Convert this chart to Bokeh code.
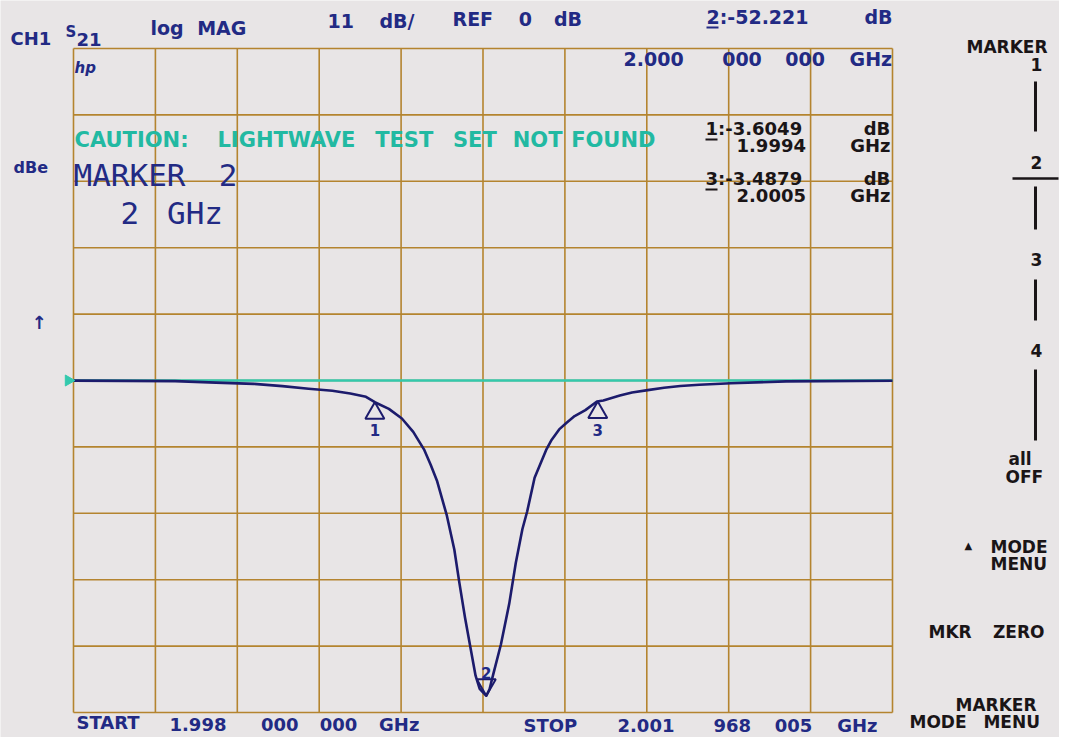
import numpy as np
from bokeh.plotting import figure
from bokeh.models import Range1d
from bokeh.core.properties import value
from bokeh.embed import file_html
from bokeh.resources import INLINE

freq_start_ghz = 1.998
freq_stop_ghz = 2.001968005
n_div = 10
ref_db = 0.0
scale_db_per_div = 11.0

trace_freq_ghz = [
    1.998000, 1.998492, 1.998690, 1.998873, 1.999012, 1.999139, 1.999254, 1.999341,
    1.999417, 1.999460, 1.999528, 1.999591, 1.999646, 1.999698, 1.999730, 1.999762,
    1.999809, 1.999845, 1.999869, 1.999897, 1.999924, 1.999948, 1.999968, 2.000000,
    2.000016, 2.000032, 2.000071, 2.000111, 2.000143, 2.000175, 2.000198, 2.000234,
    2.000290, 2.000317, 2.000353, 2.000389, 2.000428, 2.000480, 2.000536, 2.000567,
    2.000647, 2.000706, 2.000782, 2.000861, 2.000940, 2.001032, 2.001186, 2.001452,
    2.001968005,
]
trace_db = [
    -0.02, -0.10, -0.35, -0.56, -0.93, -1.36, -1.70, -2.15,
    -2.70, -3.60, -4.7, -6.3, -8.5, -11.4, -13.9, -16.7,
    -22.4, -28.0, -33.4, -39.3, -44.4, -48.9, -51.1, -52.22,
    -51.1, -48.9, -43.7, -37.0, -30.2, -24.6, -21.7, -16.1,
    -11.5, -9.8, -8.1, -7.0, -5.9, -4.9, -3.49, -3.3,
    -2.5, -2.0, -1.6, -1.2, -0.9, -0.7, -0.45, -0.15,
    -0.05,
]
memory_freq_ghz = [1.998, 2.001968005]
memory_db = [0.0, 0.0]

marker_ids = ["1", "2", "3"]
marker_freq_ghz = [1.99946, 2.00000, 2.00054]
marker_db = [-3.6049, -52.221, -3.4879]
active_marker = 1

# ---------------- layout (pixels of the picture) ----------------
W, H = 1059, 737
GL, GR, GT, GB = 73, 892, 48, 712   # graticule box

span = freq_stop_ghz - freq_start_ghz
ghz_per_px = span / (GR - GL)
db_top = ref_db + scale_db_per_div * n_div / 2
db_bot = ref_db - scale_db_per_div * n_div / 2
db_per_px = (db_top - db_bot) / (GB - GT)

x_range = Range1d(freq_start_ghz - GL * ghz_per_px, freq_stop_ghz + (W - GR) * ghz_per_px)
y_range = Range1d(db_bot - (H - GB) * db_per_px, db_top + GT * db_per_px)

BG = "#e8e5e6"
GRID = "#b4842f"
BLUE = "#222a84"
BLACK = "#1a1517"
TEAL = "#22b9a2"
TRACE = "#1c1b6c"
MEM = "#33c9ad"

p = figure(width=W, height=H, x_range=x_range, y_range=y_range,
           toolbar_location=None, output_backend="svg", min_border=0,
           x_axis_location=None, y_axis_location=None, title=None,
           background_fill_color=BG, border_fill_color=BG, outline_line_color=None)
p.grid.visible = False
p.extra_x_ranges = {"px": Range1d(0, W)}
p.extra_y_ranges = {"py": Range1d(H, 0)}

# ---------------- graticule ----------------
div_freqs = np.linspace(freq_start_ghz, freq_stop_ghz, n_div + 1)
div_dbs = ref_db + scale_db_per_div * np.arange(-n_div // 2, n_div // 2 + 1)
p.segment(x0=div_freqs, y0=db_bot, x1=div_freqs, y1=db_top, line_color=GRID, line_width=1.6)
p.segment(x0=freq_start_ghz, y0=div_dbs, x1=freq_stop_ghz, y1=div_dbs, line_color=GRID, line_width=1.6)

# ---------------- traces ----------------
p.line(memory_freq_ghz, memory_db, line_color=MEM, line_width=2.6)
p.line(trace_freq_ghz, trace_db, line_color=TRACE, line_width=2.6, line_join="round")

# reference-position pointer at left edge
p.scatter(x=[freq_start_ghz - 5 * ghz_per_px], y=[ref_db], marker="triangle", size=11,
          angle=-np.pi / 2, fill_color=MEM, line_color=MEM)

# ---------------- markers ----------------
tri_size = 19
apex = tri_size / np.sqrt(3) * db_per_px
for i, (mid, f, d) in enumerate(zip(marker_ids, marker_freq_ghz, marker_db)):
    if i == active_marker:
        p.scatter(x=[f], y=[d + apex], marker="inverted_triangle", size=tri_size,
                  fill_color=None, line_color=TRACE, line_width=2)
        p.text(x=[f], y=[d], text=[mid], text_align="center", text_baseline="bottom",
               y_offset=-17, text_font=value("DejaVu Sans"), text_font_style="bold",
               text_font_size="15px", text_color=BLUE)
    else:
        p.scatter(x=[f], y=[d - apex], marker="triangle", size=tri_size,
                  fill_color=None, line_color=TRACE, line_width=2)
        p.text(x=[f], y=[d], text=[mid], text_align="center", text_baseline="top",
               y_offset=22, text_font=value("DejaVu Sans"), text_font_style="bold",
               text_font_size="15px", text_color=BLUE)


# ---------------- screen annotations ----------------
def put(s, x0, y, cell, size, color, font="DejaVu Sans", style="bold"):
    words, i = [], 0
    for w in s.split(" "):
        if w:
            words.append((w, x0 + i * cell, x0 + (i + len(w)) * cell))
        i += len(w) + 1
    n = len(words)
    for k, (w, xl, xr) in enumerate(words):
        if k == 0:
            x, al = xl, "left"
        elif k == n - 1:
            x, al = xr, "right"
        else:
            x, al = (xl + xr) / 2, "center"
        p.text(x=[x], y=[y], text=[w], x_range_name="px", y_range_name="py",
               text_align=al, text_baseline="middle", text_font=value(font),
               text_font_style=style, text_font_size=f"{size}px", text_color=color)


def underline(x0, y, color, w=12):
    p.segment(x0=[x0], y0=[y], x1=[x0 + w], y1=[y], x_range_name="px", y_range_name="py",
              line_color=color, line_width=2)


# header
put("CH1", 10, 38, 14, 18, BLUE)
put("S", 65, 31, 12, 15, BLUE)
put("21", 76, 39, 12, 18, BLUE)
put("log MAG", 150, 27, 13.7, 19, BLUE)
put("11 dB/", 327, 20, 14.5, 19, BLUE)
put("REF 0 dB", 452, 18, 16.2, 19, BLUE)
put("2:-52.221 dB", 706, 16, 15.5, 19, BLUE)
underline(706, 27, BLUE)

# inside graticule
put("hp", 74, 67, 9, 15, BLUE, style="bold italic")
put("2.000 000 000 GHz", 623, 58, 15.8, 19, BLUE)
put("CAUTION: LIGHTWAVE TEST SET NOT FOUND", 74, 139, 15.7, 21, TEAL)
put("MARKER 2", 73, 174, 20.5, 31, BLUE, font="DejaVu Sans Mono", style="normal")
put("2 GHz", 120, 212, 20.5, 31, BLUE, font="DejaVu Sans Mono", style="normal")
put("1:-3.6049 dB", 705, 128, 15.4, 18, BLACK)
underline(705, 139, BLACK)
put("1.9994 GHz", 736, 145, 15.4, 18, BLACK)
put("3:-3.4879 dB", 705, 178, 15.4, 18, BLACK)
underline(705, 189, BLACK)
put("2.0005 GHz", 736, 195, 15.4, 18, BLACK)

# left side
put("dBe", 13, 167, 13, 16, BLUE)
put("\u2191", 31, 322, 10, 18, BLUE)

# bottom
put("START", 76, 722, 12, 18, BLUE)
put("1.998 000 000 GHz", 169, 724, 14.7, 18, BLUE)
put("STOP", 523, 725, 14.5, 18, BLUE)
put("2.001 968 005 GHz", 617, 725, 15.3, 18, BLUE)

# softkey column
put("MARKER", 966, 46, 15, 17, BLACK)
for lab, yy in [("1", 64), ("2", 162), ("3", 259), ("4", 350)]:
    put(lab, 1030, yy, 12, 17, BLACK)
p.segment(x0=[1035] * 4, y0=[81, 186, 279, 369], x1=[1035] * 4, y1=[131, 229, 320, 440],
          x_range_name="px", y_range_name="py", line_color=BLACK, line_width=3)
p.segment(x0=[1012], y0=[178], x1=[1058], y1=[178], x_range_name="px", y_range_name="py",
          line_color=BLACK, line_width=2.5)
put("all", 1008, 458, 13, 17, BLACK)
put("OFF", 1005, 476, 14.5, 17, BLACK)
put("\u25b2", 964, 545, 10, 10, BLACK)
put("MODE", 990, 546, 14.5, 17, BLACK)
put("MENU", 990, 563, 14.5, 17, BLACK)
put("MKR ZERO", 928, 631, 14.5, 17, BLACK)
put("MARKER", 955, 704, 14.2, 17, BLACK)
put("MODE MENU", 909, 721, 14.5, 17, BLACK)

open("out.html", "w").write(file_html(p, INLINE))
